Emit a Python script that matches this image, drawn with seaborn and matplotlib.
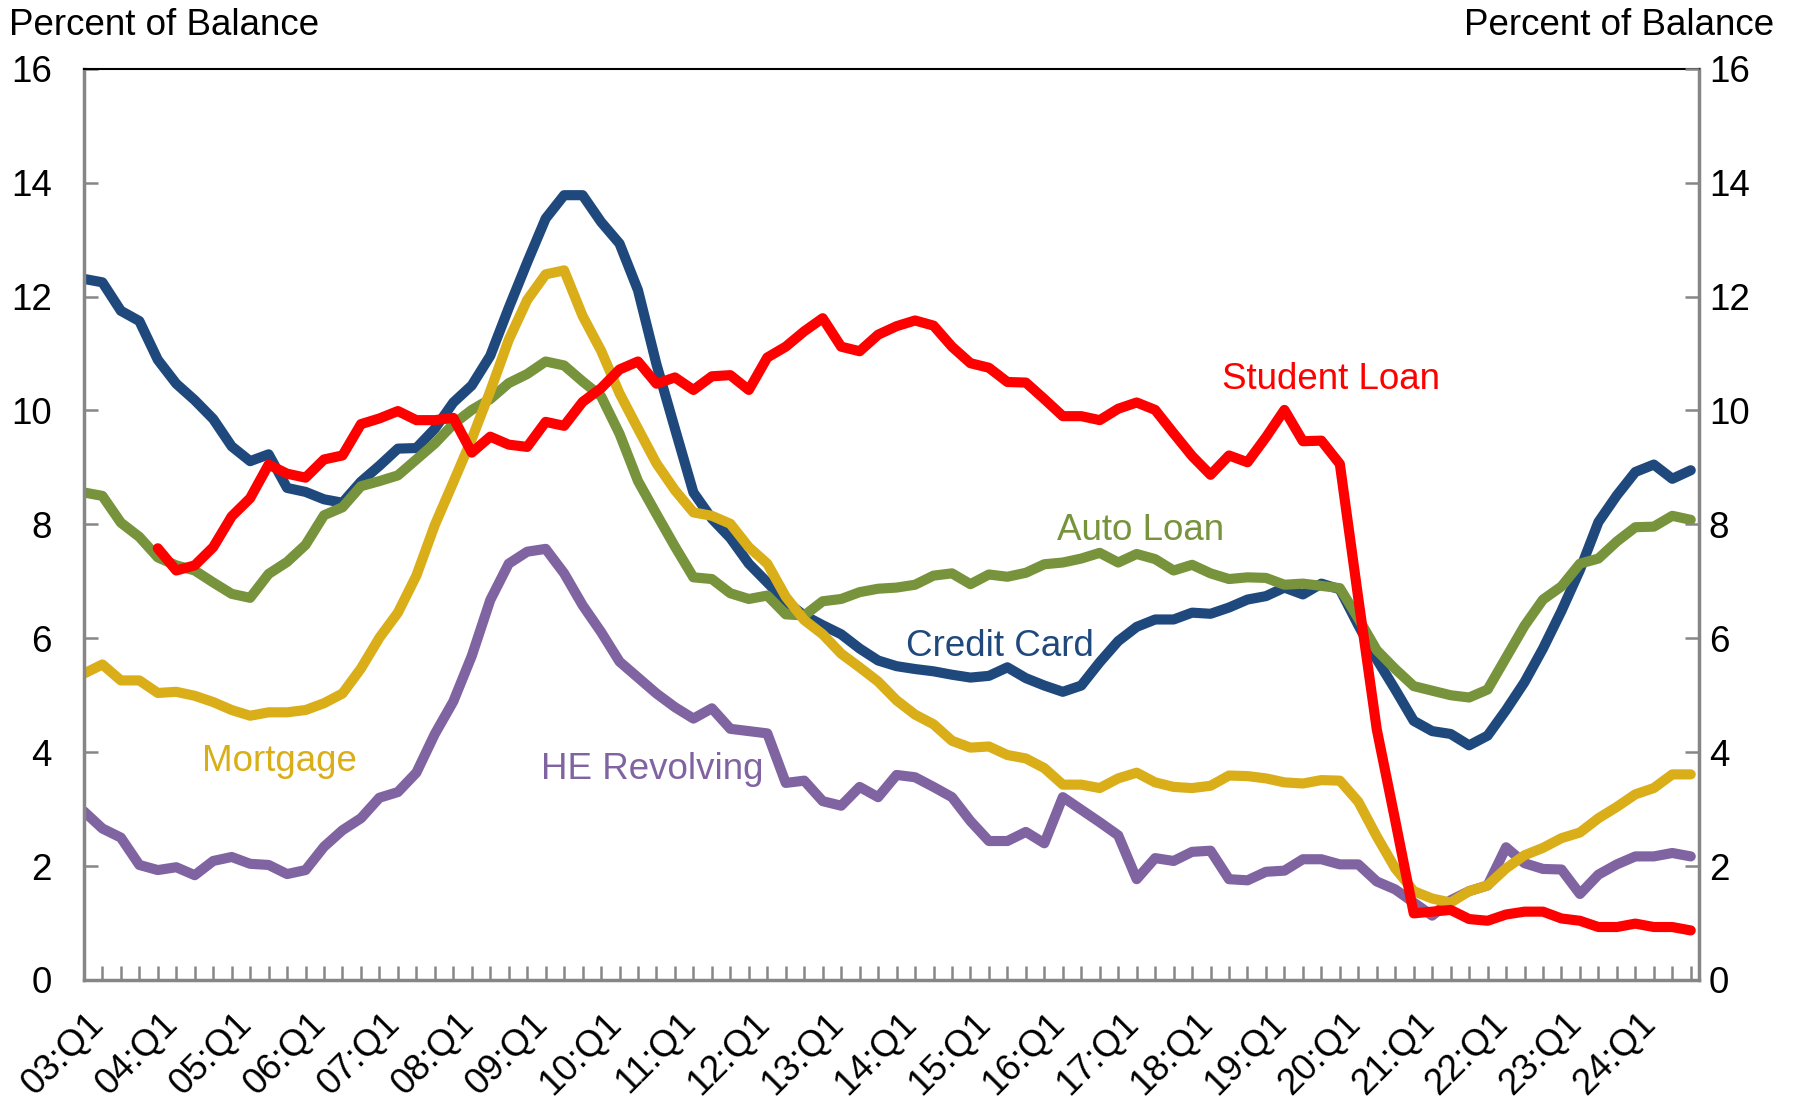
import numpy as np
import pandas as pd
import matplotlib
matplotlib.use("Agg")
import matplotlib.pyplot as plt
import matplotlib.transforms as mtransforms
import seaborn as sns

# quarters 03:Q1 .. 24:Q4
years = list(range(2003, 2025))
quarters = ['{:02d}:Q{}'.format(y % 100, q) for y in years for q in range(1, 5)]

credit_card = [12.31, 12.25, 11.75, 11.57, 10.89, 10.47, 10.18, 9.85, 9.37, 9.11,
               9.23, 8.64, 8.57, 8.44, 8.38, 8.75, 9.03, 9.33, 9.34, 9.68,
               10.14, 10.44, 10.96, 11.80, 12.60, 13.37, 13.78, 13.78, 13.31, 12.93,
               12.11, 10.81, 9.68, 8.56, 8.10, 7.76, 7.31, 6.98, 6.65, 6.40,
               6.23, 6.07, 5.82, 5.61, 5.51, 5.46, 5.42, 5.36, 5.31, 5.34,
               5.49, 5.30, 5.17, 5.06, 5.17, 5.58, 5.95, 6.20, 6.33, 6.33,
               6.45, 6.43, 6.54, 6.68, 6.74, 6.89, 6.77, 6.96, 6.86, 6.23,
               5.63, 5.10, 4.55, 4.37, 4.32, 4.12, 4.29, 4.74, 5.23, 5.82,
               6.48, 7.20, 8.04, 8.51, 8.92, 9.05, 8.80, 8.95]

auto_loan = [8.56, 8.50, 8.03, 7.78, 7.42, 7.28, 7.19, 6.98, 6.78, 6.71,
             7.13, 7.34, 7.64, 8.16, 8.30, 8.67, 8.76, 8.86, 9.14, 9.42,
             9.76, 10.01, 10.20, 10.48, 10.64, 10.86, 10.79, 10.51, 10.25, 9.59,
             8.76, 8.18, 7.61, 7.07, 7.04, 6.79, 6.69, 6.75, 6.42, 6.40,
             6.65, 6.69, 6.81, 6.87, 6.89, 6.94, 7.10, 7.14, 6.95, 7.12,
             7.08, 7.15, 7.30, 7.33, 7.40, 7.50, 7.33, 7.48, 7.39, 7.19,
             7.29, 7.14, 7.04, 7.07, 7.06, 6.94, 6.96, 6.92, 6.88, 6.35,
             5.79, 5.46, 5.16, 5.08, 5.00, 4.96, 5.10, 5.66, 6.22, 6.68,
             6.91, 7.31, 7.40, 7.70, 7.95, 7.96, 8.15, 8.08]

mortgage = [5.38, 5.54, 5.26, 5.26, 5.04, 5.06, 4.99, 4.88, 4.74, 4.64,
            4.70, 4.70, 4.74, 4.86, 5.03, 5.47, 6.01, 6.45, 7.10, 7.99,
            8.74, 9.50, 10.34, 11.24, 11.94, 12.39, 12.46, 11.66, 11.05, 10.30,
            9.68, 9.07, 8.60, 8.21, 8.15, 8.01, 7.60, 7.31, 6.73, 6.32,
            6.07, 5.73, 5.49, 5.24, 4.91, 4.66, 4.49, 4.20, 4.08, 4.10,
            3.95, 3.89, 3.72, 3.43, 3.43, 3.37, 3.54, 3.64, 3.47, 3.39,
            3.37, 3.41, 3.59, 3.58, 3.54, 3.47, 3.45, 3.51, 3.50, 3.13,
            2.52, 1.96, 1.56, 1.43, 1.36, 1.56, 1.66, 1.96, 2.19, 2.32,
            2.49, 2.59, 2.84, 3.04, 3.26, 3.37, 3.61, 3.61]

# student loan series starts at 04:Q1
student_loan = [np.nan, np.nan, np.nan, np.nan,
                7.58, 7.19, 7.28, 7.60, 8.14, 8.46,
                9.05, 8.89, 8.82, 9.14, 9.21, 9.76, 9.86, 9.99, 9.83, 9.83,
                9.87, 9.26, 9.54, 9.40, 9.36, 9.80, 9.73, 10.15, 10.39, 10.72,
                10.86, 10.47, 10.58, 10.36, 10.60, 10.62, 10.36, 10.93, 11.12, 11.39,
                11.62, 11.12, 11.04, 11.33, 11.48, 11.58, 11.49, 11.12, 10.83, 10.75,
                10.50, 10.49, 10.20, 9.90, 9.90, 9.83, 10.03, 10.14, 10.01, 9.60,
                9.20, 8.87, 9.21, 9.09, 9.53, 10.01, 9.46, 9.47, 9.06, 6.70,
                4.40, 2.80, 1.17, 1.20, 1.23, 1.07, 1.04, 1.15, 1.20, 1.20,
                1.08, 1.04, 0.93, 0.93, 0.99, 0.93, 0.93, 0.87]

he_revolving = [2.96, 2.66, 2.50, 2.02, 1.93, 1.98, 1.84, 2.09, 2.16, 2.04,
                2.02, 1.86, 1.93, 2.34, 2.63, 2.84, 3.20, 3.30, 3.64, 4.32,
                4.89, 5.69, 6.67, 7.31, 7.52, 7.57, 7.14, 6.58, 6.11, 5.59,
                5.31, 5.03, 4.79, 4.59, 4.77, 4.41, 4.37, 4.33, 3.46, 3.50,
                3.14, 3.06, 3.39, 3.21, 3.60, 3.56, 3.39, 3.21, 2.79, 2.44,
                2.44, 2.60, 2.40, 3.21, 2.99, 2.77, 2.54, 1.77, 2.14, 2.09,
                2.25, 2.27, 1.77, 1.75, 1.90, 1.92, 2.12, 2.12, 2.03, 2.03,
                1.73, 1.59, 1.36, 1.13, 1.40, 1.56, 1.66, 2.33, 2.05, 1.95,
                1.94, 1.51, 1.85, 2.03, 2.17, 2.17, 2.23, 2.17]

# draw order: first is at the bottom
series = [('HE Revolving', he_revolving, '#8064A2'),
          ('Credit Card', credit_card, '#1F497D'),
          ('Auto Loan', auto_loan, '#77933C'),
          ('Mortgage', mortgage, '#D9AE19'),
          ('Student Loan', student_loan, '#FF0000')]

# label placement (x in quarter index, y in percent)
label_pos = {'Student Loan': (67.5, 10.55),
             'Auto Loan': (57.2, 7.89),
             'Credit Card': (49.6, 5.85),
             'Mortgage': (10.6, 3.84),
             'HE Revolving': (30.75, 3.70)}

sns.set_style("white")
plt.rcParams['font.family'] = ['Liberation Sans', 'DejaVu Sans']
plt.rcParams['text.color'] = 'black'
plt.rcParams['xtick.labelcolor'] = 'black'
plt.rcParams['ytick.labelcolor'] = 'black'
FS = 26.5
GRAY = '#868686'

fig = plt.figure(figsize=(17.97, 11.0), dpi=100)
ax = fig.add_axes([0.0467, 0.1091, 0.8988, 0.8284])

x = np.arange(len(quarters))
for name, vals, col in series:
    df = pd.DataFrame({'q': x, 'v': vals}).dropna()
    sns.lineplot(data=df, x='q', y='v', ax=ax, color=col, lw=7.3,
                 solid_joinstyle='round', solid_capstyle='round')
    lx, ly = label_pos[name]
    ax.text(lx, ly, name, color=col, fontsize=FS, ha='center', va='center')

ax.set_xlim(0, 87.45)
ax.set_ylim(0, 16)
ax.set_xlabel('')
ax.set_ylabel('')

ax.set_xticks(x[::4])
ax.set_xticklabels(quarters[::4], rotation=45, ha='right', va='top',
                   rotation_mode='anchor', fontsize=FS)
ax.set_xticks(x[1:], minor=True)
ax.tick_params(axis='x', which='both', direction='in', length=10, width=1.8,
               color=GRAY, pad=19, bottom=True, labelcolor='black')
off = mtransforms.ScaledTranslation(2 / 72, 0, fig.dpi_scale_trans)
for lbl in ax.get_xticklabels():
    lbl.set_transform(lbl.get_transform() + off)

ax.set_yticks(np.arange(0, 17, 2))
ax.tick_params(axis='y', direction='in', length=10, width=1.8, color=GRAY,
               pad=23, labelsize=FS, left=True, labelcolor='black')

ax2 = ax.twinx()
ax2.set_ylim(0, 16)
ax2.set_yticks(np.arange(0, 17, 2))
ax2.tick_params(axis='y', direction='in', length=10, width=1.8, color=GRAY,
                pad=7, labelsize=FS, right=True, labelcolor='black')
for s in ax2.spines.values():
    s.set_visible(False)

for side in ['left', 'right', 'bottom']:
    ax.spines[side].set_color(GRAY)
    ax.spines[side].set_linewidth(2.5)
ax.spines['top'].set_color('black')
ax.spines['top'].set_linewidth(1.5)

fig.text(0.005, 0.977, 'Percent of Balance', fontsize=FS, ha='left', va='center')
fig.text(0.987, 0.977, 'Percent of Balance', fontsize=FS, ha='right', va='center')

fig.savefig('out.png', dpi=100)
